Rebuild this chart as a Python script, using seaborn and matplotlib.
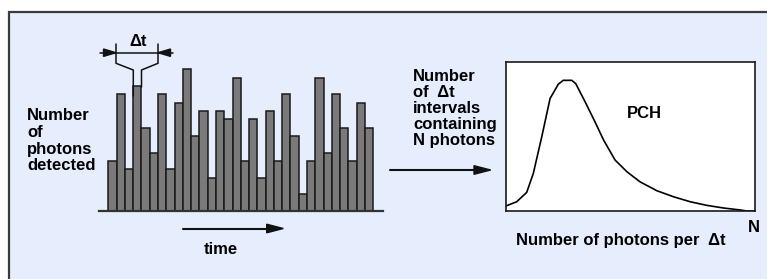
import matplotlib
matplotlib.use("Agg")
import matplotlib.pyplot as plt
import seaborn as sns
import numpy as np
import pandas as pd
from matplotlib.patches import Rectangle, Polygon

# ---------------- data ----------------
bar_index = list(range(32))
photon_counts = [6, 14, 5, 15, 10, 7, 14, 5, 13, 17, 9, 12, 4, 12, 11, 16,
                 6, 11, 4, 12, 6, 14, 9, 2, 6, 16, 7, 14, 10, 6, 13, 10]

pch_n = [0, 2.15, 4.16, 5.49, 7.18, 8.85, 10.5, 11.5, 13.2, 14.0, 15.9, 17.8,
         19.6, 21.9, 24.3, 26.9, 30.3, 33.6, 37.0, 40.3, 43.7, 47.0, 48.4, 50.0]
pch_count = [3.4, 6.2, 12.5, 25.3, 49.8, 75.5, 85.1, 87.7, 87.7, 85.5, 73.2, 60.3,
             47.6, 34.2, 26.3, 19.6, 13.6, 9.6, 6.2, 3.8, 2.0, 0.7, 0.0, 0.0]

left_label = "Number\nof\nphotons\ndetected"
right_label = "Number\nof  \u0394t\nintervals\ncontaining\nN photons"
dt_label = "\u0394t"
time_label = "time"
pch_label = "PCH"
n_label = "N"
x_label = "Number of photons per  \u0394t"

# ---------------- figure ----------------
sns.set_theme(style="white")
plt.rcParams['font.family'] = ['Liberation Sans', 'DejaVu Sans']

W, H = 768, 279
fig = plt.figure(figsize=(W / 100, H / 100), dpi=100)
fig.patch.set_facecolor("white")


def px_axes(x0, y0, x1, y1, **kw):
    return fig.add_axes([x0 / W, 1 - y1 / H, (x1 - x0) / W, (y1 - y0) / H], **kw)


# background panel
bg = fig.add_axes([0, 0, 1, 1], zorder=0)
bg.set_xlim(0, W)
bg.set_ylim(H, 0)
bg.axis("off")
bg.add_patch(Rectangle((8, 11), 759, 270, facecolor="#E6EEFD", edgecolor="none"))
bg.plot([8, 767], [11.7, 11.7], color="#3a3a3a", lw=1.6, solid_capstyle="butt")
bg.plot([8.8, 8.8], [11, 279], color="#3a3a3a", lw=1.6, solid_capstyle="butt")

# ---------------- bar chart ----------------
unit = 25 / 3
ax = px_axes(99, 40, 383, 211, zorder=1)
ax.patch.set_alpha(0)
df = pd.DataFrame({"i": bar_index, "n": photon_counts})
sns.barplot(data=df, x="i", y="n", color="#7a7a7a", saturation=1, width=1.0,
            edgecolor="#1a1a1a", linewidth=1.1, ax=ax)
ax.set_xlim(-1.62, 32.67)
ax.set_ylim(0, 171 / unit)
for s in ["top", "left", "right"]:
    ax.spines[s].set_visible(False)
ax.spines["bottom"].set_color("#333333")
ax.spines["bottom"].set_linewidth(1.6)
ax.set_xticks([])
ax.set_yticks([])
ax.set_xlabel("")
ax.set_ylabel("")

# ---------------- PCH ----------------
ax2 = px_axes(506, 62, 755, 211, zorder=1)
ax2.set_facecolor("white")
sns.lineplot(x=pch_n, y=pch_count, color="black", lw=1.2, ax=ax2)
ax2.set_xlim(0, 50)
ax2.set_ylim(0, 100)
for s in ax2.spines.values():
    s.set_visible(True)
    s.set_color("#1a1a1a")
    s.set_linewidth(1.2)
ax2.set_xticks([])
ax2.set_yticks([])

# ---------------- annotations ----------------
an = fig.add_axes([0, 0, 1, 1], zorder=5)
an.patch.set_alpha(0)
an.set_xlim(0, W)
an.set_ylim(H, 0)
an.axis("off")

lc = "#111111"
# delta t dimension
an.plot([100, 173], [52.7, 52.7], color=lc, lw=1.1)
an.add_patch(Polygon([[116, 52.7], [103.5, 49], [103.5, 56.4]], closed=True, color=lc))
an.add_patch(Polygon([[158, 52.7], [170.5, 49], [170.5, 56.4]], closed=True, color=lc))
an.plot([116, 116, 133.3, 133.3], [44, 63.3, 70, 96], color=lc, lw=1.1)
an.plot([158, 158, 141.5, 141.5], [44, 63.3, 70, 87], color=lc, lw=1.1)

# time arrow
an.plot([182.7, 270], [228.5, 228.5], color=lc, lw=1.5)
an.add_patch(Polygon([[283.3, 228.5], [266.7, 224.2], [266.7, 232.8]], closed=True, color=lc))

# middle arrow
an.plot([390, 477], [170, 170], color=lc, lw=1.5)
an.add_patch(Polygon([[490.7, 170], [474, 165.7], [474, 174.3]], closed=True, color=lc))

fkw = dict(fontweight="bold", color="black", fontsize=12)
an.text(27, 108.5, left_label, ha="left", va="top", linespacing=1.13, **fkw)
an.text(413, 69, right_label, ha="left", va="top", linespacing=1.08, **fkw)
an.text(138, 41.7, dt_label, ha="center", va="center", **fkw)
an.text(220.5, 249, time_label, ha="center", va="center", **fkw)
an.text(644.5, 113, pch_label, ha="center", va="center", **fkw)
an.text(754, 227, n_label, ha="center", va="center", **fkw)
an.text(621, 241, x_label, ha="center", va="center", **fkw)

fig.savefig("out.png", dpi=100)
